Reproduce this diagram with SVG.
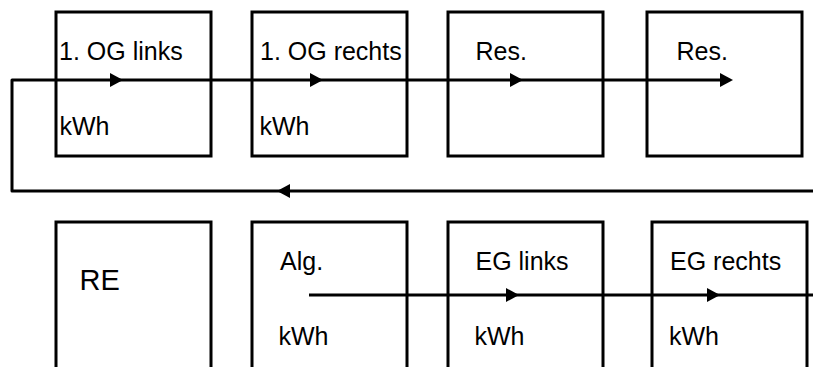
<svg xmlns="http://www.w3.org/2000/svg" width="813" height="367" viewBox="0 0 813 367">
<style>
.box{fill:#fff;stroke:#000;stroke-width:3}
.t{font-family:"Liberation Sans",Arial,sans-serif;font-size:25px;fill:#000}
.big{font-size:29px}
.ln{fill:none;stroke:#000;stroke-width:3;stroke-linejoin:round}
.ah{fill:#000}
</style>
<rect width="813" height="367" fill="#fff"/>
<g id="og-links"><rect class="box" x="56" y="12" width="155" height="144"/><text class="t" x="59" y="60">1. OG links</text><text class="t" x="59.5" y="135">kWh</text></g>
<g id="og-rechts"><rect class="box" x="252" y="12" width="155" height="144"/><text class="t" x="260" y="60">1. OG rechts</text><text class="t" x="259.5" y="135">kWh</text></g>
<g id="res1"><rect class="box" x="448" y="12" width="155" height="144"/><text class="t" x="475.5" y="60">Res.</text></g>
<g id="res2"><rect class="box" x="647" y="12" width="155" height="144"/><text class="t" x="676.5" y="60">Res.</text></g>
<g id="re"><rect class="box" x="56" y="222" width="155" height="150"/><text class="t big" x="79.5" y="290">RE</text></g>
<g id="alg"><rect class="box" x="252" y="222" width="155" height="150"/><text class="t" x="280" y="270">Alg.</text><text class="t" x="278.5" y="345">kWh</text></g>
<g id="eg-links"><rect class="box" x="448" y="222" width="155" height="150"/><text class="t" x="475.5" y="270">EG links</text><text class="t" x="474.5" y="345">kWh</text></g>
<g id="eg-rechts"><rect class="box" x="652" y="222" width="155" height="150"/><text class="t" x="670" y="270">EG rechts</text><text class="t" x="669" y="345">kWh</text></g>
<g id="connectors">
<path class="ln" d="M813 191 H12 V80 H722"/>
<path class="ln" d="M309 295 H813"/>
<path class="ah" d="M110 73 L123 80 L110 87 Z"/>
<path class="ah" d="M310 73 L323 80 L310 87 Z"/>
<path class="ah" d="M510 73 L523 80 L510 87 Z"/>
<path class="ah" d="M720 73 L733 80 L720 87 Z"/>
<path class="ah" d="M290 184 L277 191 L290 198 Z"/>
<path class="ah" d="M506 288 L519 295 L506 302 Z"/>
<path class="ah" d="M707 288 L720 295 L707 302 Z"/>
</g>
</svg>
